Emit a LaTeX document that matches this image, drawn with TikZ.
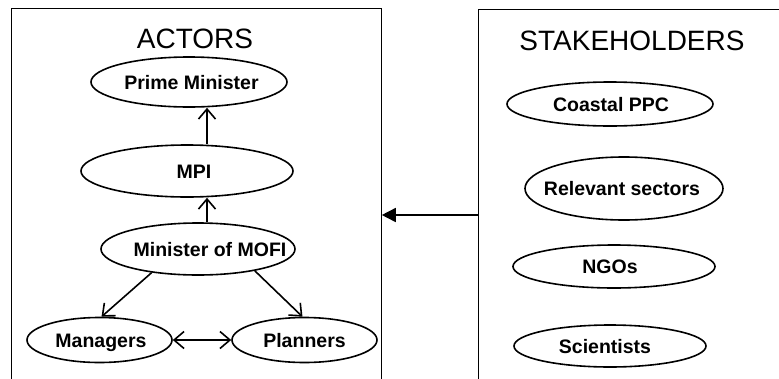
\documentclass[tikz,border=0pt]{standalone}
\usepackage{fontspec}
\setmainfont{Liberation Sans}
\usetikzlibrary{shapes.geometric,arrows.meta}
\begin{document}
\begin{tikzpicture}[x=1pt,y=-1pt,
  ell/.style={draw, ellipse, line width=1.6pt, inner sep=0pt},
  etext/.style={font=\bfseries\fontsize{19.5}{24}\selectfont, text height=14pt, text depth=0pt, inner sep=0pt},
  ttl/.style={font=\fontsize{28}{34}\selectfont, inner sep=0pt},
  framebox/.style={draw, line width=1.3pt, inner sep=0pt, anchor=north west},
  arr/.style={line width=1.6pt, -{Straight Barb[length=10pt,width=17pt]}},
  darr/.style={line width=1.6pt, {Straight Barb[length=10pt,width=17pt]}-{Straight Barb[length=10pt,width=17pt]}},
  stkarr/.style={line width=1.6pt, -{Triangle[length=14pt,width=14pt]}}]
\useasboundingbox (0,0) rectangle (779,378);
\clip (0,0) rectangle (779,378);
% frames
\node[framebox, minimum width=370pt, minimum height=420pt] (abox) at (10.5,8) {};
\node[framebox, minimum width=340pt, minimum height=420pt] (sbox) at (478,9) {};
% titles
\node[ttl] (actt) at (195,38.5) {ACTORS};
\node[ttl] (stkt) at (632,41) {STAKEHOLDERS};
% actors
\node[ell, minimum width=196pt, minimum height=50pt, label={[etext, xshift=2.5pt]center:Prime Minister}] (pm) at (189,82) {};
\node[ell, minimum width=212pt, minimum height=52pt, label={[etext, xshift=7pt]center:MPI}] (mpi) at (187,171) {};
\node[ell, minimum width=194pt, minimum height=52pt, label={[etext, xshift=12pt]center:Minister of MOFI}] (mofi) at (198,249) {};
\node[ell, minimum width=145pt, minimum height=45pt, label={[etext, xshift=1.5pt]center:Managers}] (mgr) at (99.5,340) {};
\node[ell, minimum width=145pt, minimum height=45pt, label={[etext]center:Planners}] (pln) at (304.5,340) {};
% stakeholders
\node[ell, minimum width=206pt, minimum height=44pt, label={[etext, xshift=1pt]center:Coastal PPC}] (cppc) at (610,104) {};
\node[ell, minimum width=198pt, minimum height=63pt, label={[etext, xshift=-2pt]center:Relevant sectors}] (rel) at (624,188.5) {};
\node[ell, minimum width=202pt, minimum height=43pt, label={[etext, xshift=-4pt]center:NGOs}] (ngo) at (614,266.5) {};
\node[ell, minimum width=192pt, minimum height=42pt, label={[etext, xshift=-5pt]center:Scientists}] (sci) at (610,346) {};
% connectors
\draw[arr] ([xshift=20pt]mpi.north) -- ([xshift=18pt]pm.south);
\draw[arr] ([xshift=9pt]mofi.north) -- ([xshift=20pt]mpi.south);
\draw[arr] (mofi.207) -- (mgr.85);
\draw[arr] (mofi.339) -- (pln.95);
\draw[darr] (mgr.east) -- (pln.west);
\coordinate (ay) at (0,215);
\draw[stkarr] (sbox.west |- ay) -- (abox.east |- ay);
\end{tikzpicture}
\end{document}
